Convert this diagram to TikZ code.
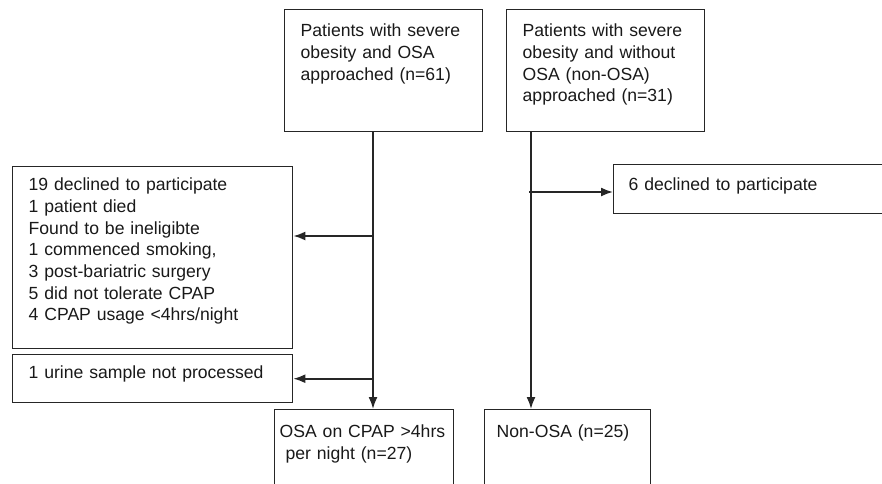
\documentclass[tikz,border=0pt]{standalone}
\usepackage{fontspec}
\setmainfont{Liberation Sans}
\usetikzlibrary{arrows.meta,positioning}

\begin{document}
\begin{tikzpicture}[x=1pt,y=-1pt,>={Latex[length=12pt,width=9pt]},line width=1.7pt,draw=black!85,
  box/.style={draw=black!85,line width=1.4pt,anchor=north west,align=left,inner ysep=0pt,inner xsep=16pt,text=black!90,font=\fontsize{17.6}{21.7}\selectfont}]
  \clip (0,0) rectangle (882,483);
  \node[box,text width=166pt,text height=27pt,text depth=95pt] (osa) at (284,9) {Patients with severe\\obesity and OSA\\approached (n=61)};
  \node[box,text width=166pt,text height=27pt,text depth=95pt] (nonosa) at (506,9) {Patients with severe\\obesity and without\\OSA (non-OSA)\\approached (n=31)};
  \node[box,text width=248pt,text height=24pt,text depth=158pt] (excl) at (12,166) {19 declined to participate\\1 patient died\\Found to be ineligibte\\1 commenced smoking,\\3 post-bariatric surgery\\5 did not tolerate CPAP\\4 CPAP usage <4hrs/night};
  \node[box,text width=248pt,text height=24pt,text depth=24pt] (urine) at (12,354) {1 urine sample not processed};
  \node[box,inner xsep=15pt,text width=300pt,text height=26pt,text depth=23pt] (decl) at (613,164) {6 declined to participate};
  \node[box,inner xsep=5pt,text width=169pt,text height=28pt,text depth=100pt] (cpap) at (274,409) {OSA on CPAP >4hrs\\\ per night (n=27)};
  \node[box,inner xsep=12pt,text width=142pt,text height=28pt,text depth=100pt] (nonc) at (484,409) {Non-OSA (n=25)};

  \coordinate (s1) at (373,131);
  \coordinate (s2) at (531,131);
  \coordinate (b1) at (373,236);
  \coordinate (b2) at (529,192);

  \draw[->] (s1) -- (s1 |- cpap.north);
  \draw[->] (s2) -- (s2 |- nonc.north);
  \draw[->] (b1) -- (b1 -| excl.east);
  \draw[->] (s1 |- urine.east) -- (urine.east);
  \draw[->] (b2) -- (b2 -| decl.west);
\end{tikzpicture}
\end{document}
